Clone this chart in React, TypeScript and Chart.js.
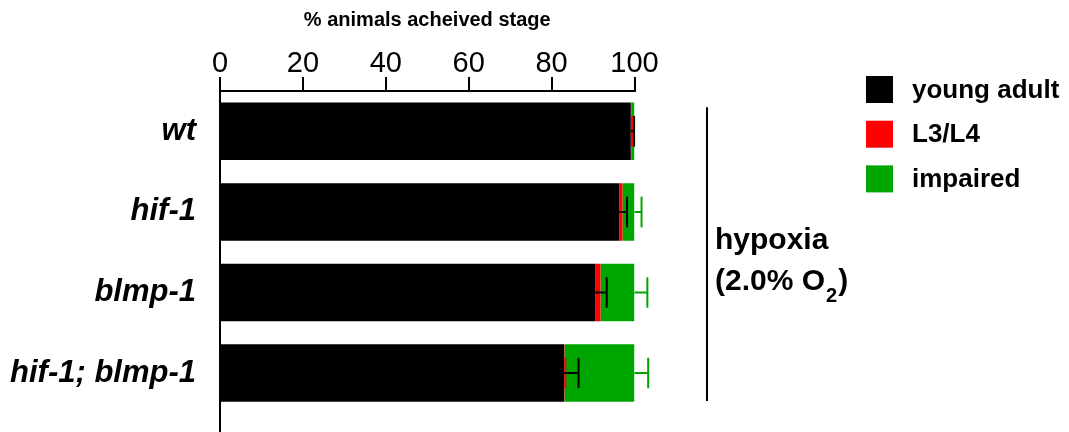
import React, { useEffect, useRef } from "react";
import { Chart, registerables } from "chart.js";

Chart.register(...registerables);

const categories = ["wt", "hif-1", "blmp-1", "hif-1; blmp-1"];
const youngAdult = [99.1, 96.3, 90.5, 83.0];
const l3l4 = [0.1, 0.8, 1.3, 0.1];
const impaired = [0.8, 2.9, 8.2, 16.9];
const youngAdultErr = [0.8, 1.9, 2.8, 3.5];
const l3l4Err = [0.2, 0, 0, 0.2];
const impairedErr = [0, 1.7, 3.1, 3.3];
const seriesNames = ["young adult", "L3/L4", "impaired"];
const seriesColors = ["#000000", "#ff0000", "#00a600"];
const xTicks = [0, 20, 40, 60, 80, 100];
const axisTitle = "% animals acheived stage";
const groupLine1 = "hypoxia";
const groupLine2 = "(2.0% O";
const groupSub = "2";

const FONT = "'Liberation Sans', Arial, Helvetica, sans-serif";

const errorBarsPlugin = {
  id: "errorBars",
  afterDatasetsDraw(chart: any) {
    const ctx = chart.ctx;
    const xs = chart.scales.x;
    const errs = [youngAdultErr, l3l4Err, impairedErr];
    const order = [2, 1, 0];
    ctx.save();
    ctx.lineWidth = 2;
    for (const d of order) {
      const meta = chart.getDatasetMeta(d);
      ctx.strokeStyle = seriesColors[d];
      for (let i = 0; i < categories.length; i++) {
        const err = errs[d][i];
        if (!err) continue;
        let end = 0;
        for (let k = 0; k <= d; k++) end += chart.data.datasets[k].data[i];
        const bar = meta.data[i];
        const yc = bar.y;
        const capH = bar.height * 0.53;
        const x0 = xs.getPixelForValue(end);
        const x1 = xs.getPixelForValue(end + err);
        ctx.beginPath();
        ctx.moveTo(x0, yc);
        ctx.lineTo(x1, yc);
        ctx.moveTo(x1, yc - capH / 2);
        ctx.lineTo(x1, yc + capH / 2);
        ctx.stroke();
      }
    }
    ctx.restore();
  },
};

const decorPlugin = {
  id: "decor",
  afterDraw(chart: any) {
    const ctx = chart.ctx;
    const area = chart.chartArea;
    ctx.save();
    ctx.strokeStyle = "#000";
    ctx.lineWidth = 2;
    ctx.beginPath();
    ctx.moveTo(area.left, area.bottom - 1);
    ctx.lineTo(area.left, chart.height);
    ctx.stroke();

    const ys = chart.scales.y;
    const yTop = ys.getPixelForValue(0) - 24;
    const yBot = ys.getPixelForValue(categories.length - 1) + 28;
    const bx = 707;
    ctx.beginPath();
    ctx.moveTo(bx, yTop);
    ctx.lineTo(bx, yBot);
    ctx.stroke();

    ctx.fillStyle = "#000";
    ctx.textAlign = "left";
    ctx.textBaseline = "alphabetic";
    ctx.font = `bold 30px ${FONT}`;
    ctx.fillText(groupLine1, 715, 249);
    ctx.fillText(groupLine2, 715, 290);
    const w2 = ctx.measureText(groupLine2).width;
    ctx.font = `bold 20px ${FONT}`;
    ctx.fillText(groupSub, 715 + w2 + 1, 302);
    const ws = ctx.measureText(groupSub).width;
    ctx.font = `bold 30px ${FONT}`;
    ctx.fillText(")", 715 + w2 + ws + 2, 290);

    const lx = 866;
    const ly0 = 89.5;
    const step = 44.7;
    const sq = 27;
    ctx.font = `bold 26px ${FONT}`;
    ctx.textBaseline = "middle";
    chart.data.datasets.forEach((ds: any, i: number) => {
      const cy = ly0 + i * step;
      ctx.fillStyle = ds.backgroundColor;
      ctx.fillRect(lx, cy - sq / 2, sq, sq);
      ctx.fillStyle = "#000";
      ctx.fillText(ds.label, 912, cy + 1);
    });
    ctx.restore();
  },
};

export default function App() {
  const ref = useRef<HTMLCanvasElement | null>(null);
  useEffect(() => {
    if (!ref.current) return;
    const chart = new Chart(ref.current, {
      type: "bar",
      data: {
        labels: categories,
        datasets: [youngAdult, l3l4, impaired].map((vals, i) => ({
          label: seriesNames[i],
          data: vals,
          backgroundColor: seriesColors[i],
          borderWidth: 0,
          categoryPercentage: 1,
          barPercentage: 0.714,
        })),
      },
      options: {
        indexAxis: "y",
        animation: false,
        responsive: false,
        devicePixelRatio: 1,
        layout: { padding: { left: 0, right: 434.5, top: 0, bottom: 18 } },
        plugins: {
          legend: { display: false },
          tooltip: { enabled: false },
        },
        scales: {
          x: {
            position: "top",
            stacked: true,
            min: 0,
            max: 100,
            afterBuildTicks: (scale: any) => {
              scale.ticks = xTicks.map((v) => ({ value: v }));
            },
            afterFit: (scale: any) => {
              scale.height = 91;
            },
            ticks: {
              color: "#000",
              padding: -4,
              font: { family: FONT, size: 29 },
            },
            grid: {
              drawOnChartArea: false,
              drawTicks: true,
              tickLength: 14,
              lineWidth: 2,
              color: "#000",
            },
            border: { display: true, color: "#000", width: 2 },
            title: {
              display: true,
              text: axisTitle,
              color: "#000",
              font: { family: FONT, size: 20, weight: "bold" },
              padding: { top: 8, bottom: 0 },
            },
          },
          y: {
            stacked: true,
            afterFit: (scale: any) => {
              scale.width = 220;
            },
            ticks: {
              color: "#000",
              padding: 0,
              font: { family: FONT, size: 31, weight: "bold", style: "italic" },
            },
            grid: {
              drawOnChartArea: false,
              drawTicks: true,
              tickLength: 24,
              color: "rgba(0,0,0,0)",
            },
            border: { display: true, color: "#000", width: 2 },
          },
        },
      } as any,
      plugins: [errorBarsPlugin, decorPlugin],
    });
    return () => chart.destroy();
  }, []);
  return (
    <div style={{ position: "fixed", left: 0, top: 0, width: 1069, height: 432, background: "#fff" }}>
      <canvas ref={ref} width={1069} height={432} style={{ width: 1069, height: 432 }} />
    </div>
  );
}
